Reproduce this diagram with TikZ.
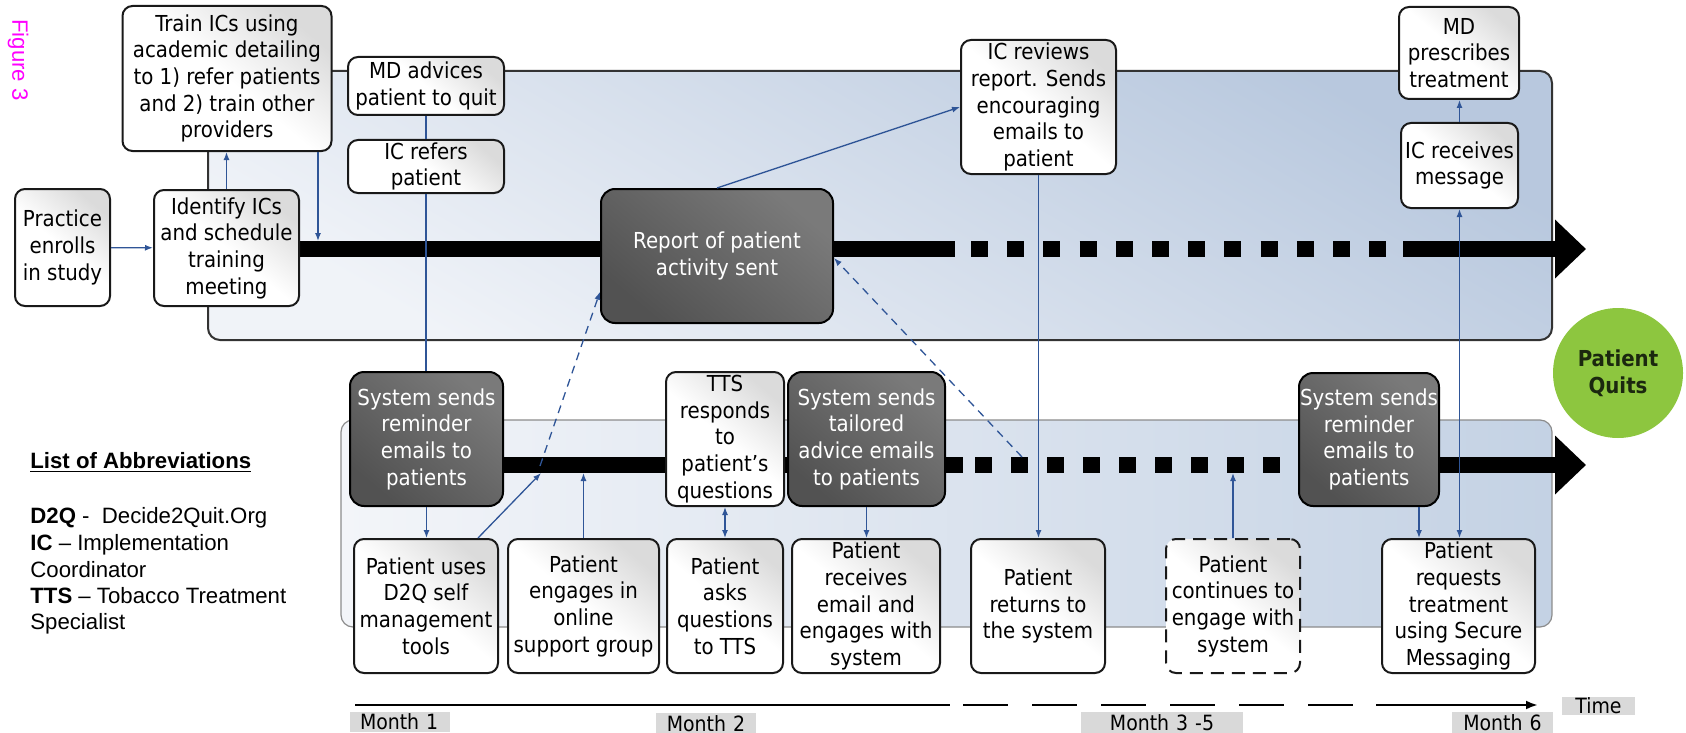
\documentclass[tikz,border=0pt]{standalone}
\usepackage{fontspec}
\setmainfont{DejaVu Sans Condensed}
\newfontfamily\arialf{Liberation Sans}
\usetikzlibrary{arrows.meta,calc}
\pgfdeclarelayer{bg}
\pgfdeclarelayer{mid}
\pgfsetlayers{bg,mid,main}
\newcommand{\bxfont}{\fontsize{11pt}{13.35pt}\selectfont}
\newcommand{\lbfont}{\fontsize{10.5pt}{12pt}\selectfont}
\newcommand{\abfont}{\arialf\fontsize{11.1pt}{13pt}\selectfont}
\definecolor{conn}{RGB}{47,85,151}
\definecolor{quitg}{RGB}{141,198,63}
\definecolor{labg}{RGB}{217,217,217}
\definecolor{panTa}{RGB}{184,200,222}
\definecolor{panTb}{RGB}{240,243,248}
\definecolor{panLa}{RGB}{243,245,249}
\definecolor{panLb}{RGB}{196,210,228}
\definecolor{figmag}{RGB}{255,0,255}
\definecolor{quittext}{RGB}{27,40,15}
\tikzset{
  wbox/.style={draw=black!90, line width=1pt, rounded corners=5pt,
    top color=black!14, bottom color=white, middle color=white, shading angle=-40,
    align=center, inner sep=0pt, font=\bxfont},
  dbox/.style={draw=black, line width=1pt, rounded corners=7pt,
    top color=black!52, bottom color=black!68, shading angle=-40,
    text=white, align=center, inner sep=0pt, font=\bxfont},
  bar/.style={line width=8pt, black},
  tline/.style={line width=1.3pt, black},
  conn/.style={draw=conn, line width=0.65pt, >={Latex[length=4pt,width=3pt]}},
  dconn/.style={conn, dash pattern=on 4pt off 3pt},
  lab/.style={fill=labg, inner ysep=1.25pt, text height=7.6pt, text depth=0pt, font=\lbfont},
  abbr/.style={anchor=base west, inner sep=0pt, font=\abfont}
}
\begin{document}
\begin{tikzpicture}[x=0.5pt,y=-0.5pt]
\useasboundingbox (0,0) rectangle (1686,733);

% ---------- nodes ----------
\node[wbox, minimum width=104.5pt, minimum height=72.5pt] (train) at (227,78.5)
  {Train ICs using\\academic detailing\\to 1) refer patients\\and 2) train other\\providers};
\node[wbox, minimum width=78pt, minimum height=29pt] (mdadv) at (426,86)
  {MD advices\\patient to quit};
\node[wbox, minimum width=78pt, minimum height=26.5pt] (icref) at (426,166.5)
  {IC refers\\patient};
\node[wbox, minimum width=47.5pt, minimum height=58.5pt] (practice) at (62.5,247.5)
  {Practice\\enrolls\\in study};
\node[wbox, minimum width=72.5pt, minimum height=58pt] (identify) at (226.5,248)
  {Identify ICs\\and schedule\\training\\meeting};
\node[dbox, minimum width=116pt, minimum height=67pt] (report) at (717,256)
  {Report of patient\\activity sent};
\node[wbox, minimum width=77.5pt, minimum height=67pt] (icrev) at (1038.5,107)
  {IC reviews\\report. Sends\\encouraging\\emails to\\patient};
\node[wbox, minimum width=60pt, minimum height=46pt] (mdpres) at (1459,53)
  {MD\\prescribes\\treatment};
\node[wbox, minimum width=58.5pt, minimum height=42.5pt] (icrec) at (1459.5,165.5)
  {IC receives\\message};

\node[dbox, minimum width=76.5pt, minimum height=67pt] (sys1) at (426.5,439)
  {System sends\\reminder\\emails to\\patients};
\node[wbox, minimum width=59pt, minimum height=67pt] (tts) at (725,439)
  {TTS\\responds\\to\\patient’s\\questions};
\node[dbox, minimum width=78.5pt, minimum height=67pt] (sys2) at (866.5,439)
  {System sends\\tailored\\advice emails\\to patients};
\node[dbox, minimum width=70pt, minimum height=66.5pt] (sys3) at (1369,439.5)
  {System sends\\reminder\\emails to\\patients};

\node[wbox, minimum width=72pt, minimum height=67pt] (puses) at (426,606)
  {Patient uses\\D2Q self\\management\\tools};
\node[wbox, minimum width=75.5pt, minimum height=67pt] (pengage) at (583.5,606)
  {Patient\\engages in\\online\\support group};
\node[wbox, minimum width=58pt, minimum height=67pt] (pasks) at (725,606)
  {Patient\\asks\\questions\\to TTS};
\node[wbox, minimum width=74pt, minimum height=67pt] (preceives) at (866,606)
  {Patient\\receives\\email and\\engages with\\system};
\node[wbox, minimum width=67pt, minimum height=67pt] (preturns) at (1038,606)
  {Patient\\returns to\\the system};
\node[wbox, dash pattern=on 6.5pt off 4pt, minimum width=67pt, minimum height=67pt] (pcont) at (1233,606)
  {Patient\\continues to\\engage with\\system};
\node[wbox, minimum width=76.5pt, minimum height=67pt] (preq) at (1458.5,606)
  {Patient\\requests\\treatment\\using Secure\\Messaging};

\node[circle, fill=quitg, minimum size=65pt, inner sep=0pt, align=center,
  text=quittext, font=\bxfont\bfseries] (quits) at (1618,373) {Patient\\Quits};

% figure label and abbreviations
\node[rotate=-90, text=figmag, font=\abfont, inner sep=0pt] (fig) at (18,60) {Figure 3};
\node[abbr] (abt) at (30,468) {\textbf{\underline{List of Abbreviations}}};
\node[abbr] (ab1) at (30,523) {\textbf{D2Q} -\ \ Decide2Quit.Org};
\node[abbr] (ab2) at (30,550) {\textbf{IC} – Implementation};
\node[abbr] (ab3) at (30,577) {Coordinator};
\node[abbr] (ab4) at (30,603) {\textbf{TTS} – Tobacco Treatment};
\node[abbr] (ab5) at (30,629) {Specialist};

% time labels
\node[lab, text width=40pt, inner xsep=5pt, align=left] (m1) at (400,722) {Month 1};
\node[lab, text width=40pt, inner xsep=5pt, align=center] (m2) at (706,723.5) {Month 2};
\node[lab, text width=71pt, inner xsep=5pt, align=center] (m35) at (1162,722.5) {Month 3 -5};
\node[lab, text width=40.5pt, inner xsep=5pt, align=center] (m6) at (1502.5,722.5) {Month 6};
\node[lab, text width=30.5pt, inner xsep=3pt, align=center, text height=7.2pt, inner ysep=0.9pt] (tm) at (1598.5,706) {Time};

% helper coordinates
\coordinate (tb) at (0,249);
\coordinate (lb) at (0,465);
\coordinate (lbbot) at (0,473);
\coordinate (trainhit) at (318,241);
\coordinate (tbend) at (955,249);
\coordinate (tbsq1) at (971,249);
\coordinate (tbsq2) at (1388,249);
\coordinate (tbsol) at (1403,249);
\coordinate (tbtip) at (1586,249);
\coordinate (lbend) at (963,465);
\coordinate (lbsq1) at (975,465);
\coordinate (lbsq2) at (1299,465);
\coordinate (lbtip) at (1586,465);
\coordinate (pu1) at ($(puses.north east)+(-21,0)$);
\coordinate (puhit) at (541,473);
\coordinate (dash1) at (540,466);
\coordinate (dash2) at (1022,457);
\coordinate (s3a) at ($(sys3.south)+(50,0)$);

% ---------- panels ----------
\begin{pgfonlayer}{bg}
\draw[draw=black!80, line width=1pt, rounded corners=6pt, top color=panTa, bottom color=panTb, shading angle=-30]
  (208,71) rectangle (1552,340);
\draw[draw=black!45, line width=0.6pt, rounded corners=6pt, left color=panLa, right color=panLb]
  (341,420) rectangle (1552,627);
\end{pgfonlayer}

% ---------- thick time bars ----------
\begin{pgfonlayer}{mid}
\draw[bar] (identify.east |- tb) -- (report.west |- tb);
\draw[bar] (report.east |- tb) -- (tbend);
\draw[bar, dash pattern=on 8.5pt off 9.6pt] (tbsq1) -- (tbsq2);
\draw[bar, -{Triangle[length=15.5pt,width=28.5pt]}] (tbsol) -- (tbtip);
\draw[bar] (sys1.east |- lb) -- (tts.west |- lb);
\draw[bar] (tts.east |- lb) -- (sys2.west |- lb);
\draw[bar] (sys2.east |- lb) -- (lbend);
\draw[bar, dash pattern=on 8.5pt off 9.5pt] (lbsq1) -- (lbsq2);
\draw[bar, -{Triangle[length=15.5pt,width=28.5pt]}] (sys3.east |- lb) -- (lbtip);
\end{pgfonlayer}

% ---------- connectors ----------
\draw[conn,->] (practice) -- (identify);
\draw[conn,->] (identify.north) -- (train.south -| identify.north);
\draw[conn,->] (trainhit |- train.south) -- (trainhit);
\draw[conn] (mdadv) -- (icref);
\draw[conn] (icref) -- (icref.south |- sys1.north);
\draw[conn,->] (report.north) -- (icrev.west);
\draw[conn,->] (icrev.south) -- (icrev.south |- preturns.north);
\draw[conn,->] (icrec.north) -- (icrec.north |- mdpres.south);
\draw[conn,<->] (icrec.south) -- (icrec.south |- preq.north);
\draw[conn,->] (sys1) -- (sys1.south |- puses.north);
\draw[conn,->] (pu1) -- (puhit);
\draw[dconn,->] (dash1) -- (report.197);
\draw[conn,->] (pengage.north) -- (pengage.north |- lbbot);
\draw[conn,<->] (tts) -- (pasks);
\draw[conn,->] (sys2) -- (sys2.south |- preceives.north);
\draw[dconn,->] (dash2) -- (report.-1);
\draw[conn,->] (pcont.north) -- (pcont.north |- lbbot);
\draw[conn,->] (s3a) -- (s3a |- preq.north);

% ---------- time line ----------
\coordinate (t0) at (355,705);
\coordinate (t1) at (950,705);
\coordinate (t2) at (963,705);
\coordinate (t3) at (1353,705);
\coordinate (t4) at (1376,705);
\coordinate (t5) at (1538,705);
\draw[tline] (t0) -- (t1);
\draw[tline, dash pattern=on 22.5pt off 12pt] (t2) -- (t3);
\draw[tline, -{Latex[length=6pt,width=4.5pt]}] (t4) -- (t5);
\end{tikzpicture}
\end{document}
